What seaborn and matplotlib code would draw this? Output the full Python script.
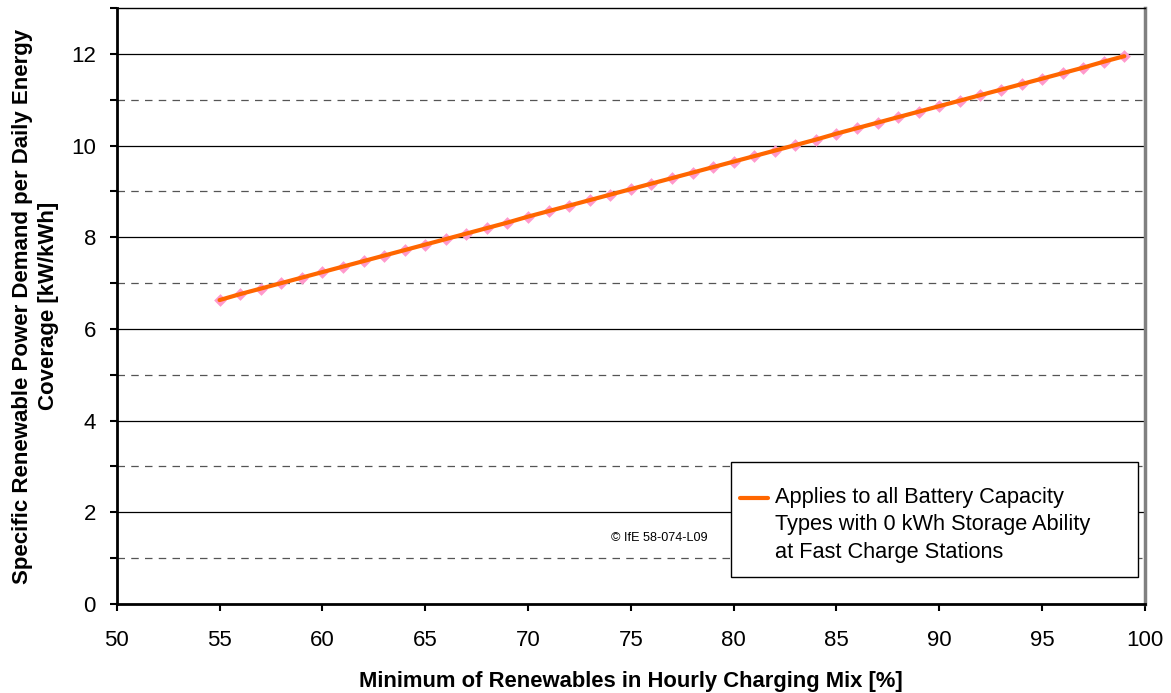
import matplotlib
matplotlib.use("Agg")
import matplotlib.pyplot as plt
from matplotlib.legend_handler import HandlerLine2D
from matplotlib.lines import Line2D
from matplotlib.patches import Rectangle
import seaborn as sns
import pandas as pd
import numpy as np

renewable_share = list(range(55, 100))
power_demand = [6.63, 6.76, 6.88, 7.00, 7.12, 7.24, 7.36, 7.48, 7.60, 7.72,
                7.84, 7.96, 8.08, 8.20, 8.32, 8.45, 8.57, 8.69, 8.81, 8.93,
                9.05, 9.17, 9.29, 9.41, 9.53, 9.65, 9.77, 9.89, 10.01, 10.13,
                10.26, 10.38, 10.50, 10.62, 10.74, 10.86, 10.98, 11.10, 11.22, 11.34,
                11.46, 11.58, 11.70, 11.83, 11.95]
series_label = "Applies to all Battery Capacity\nTypes with 0 kWh Storage Ability\nat Fast Charge Stations"
x_label = "Minimum of Renewables in Hourly Charging Mix [%]"
y_label = "Specific Renewable Power Demand per Daily Energy\nCoverage [kW/kWh]"
copyright_text = "© IfE 58-074-L09"

df = pd.DataFrame({"x": renewable_share, "y": power_demand})

sns.set_theme(style="white")
plt.rcParams['font.family'] = ['Liberation Sans', 'DejaVu Sans']
plt.rcParams['text.color'] = 'black'
plt.rcParams['axes.labelcolor'] = 'black'
plt.rcParams['xtick.color'] = 'black'
plt.rcParams['ytick.color'] = 'black'


class TopLineHandler(HandlerLine2D):
    def __init__(self, shift, **kw):
        super().__init__(**kw)
        self.shift = shift

    def create_artists(self, legend, orig_handle, xdescent, ydescent, width,
                       height, fontsize, trans):
        arts = super().create_artists(legend, orig_handle, xdescent, ydescent,
                                      width, height, fontsize, trans)
        for a in arts:
            a.set_ydata(np.asarray(a.get_ydata()) + self.shift)
        return arts


fig = plt.figure(figsize=(11.71, 6.93), dpi=100)
ax = fig.add_axes([0.0997, 0.1284, 0.878, 0.860])

sns.scatterplot(data=df, x="x", y="y", marker="D", s=42, color="#ff99cc",
                edgecolor="#ff99cc", linewidth=0, ax=ax, zorder=3, legend=False)
sns.lineplot(data=df, x="x", y="y", color="#ff6600", linewidth=3, ax=ax,
             zorder=4, label=series_label)

ax.set_xlim(50, 100)
ax.set_ylim(0, 13)
ax.set_xticks(np.arange(50, 101, 5))
ax.set_yticks(np.arange(0, 13, 2))
ax.set_yticks(np.arange(1, 14, 2), minor=True)

for yv in range(2, 13, 2):
    ax.axhline(yv, color="black", linewidth=0.9, zorder=1)
for yv in range(1, 13, 2):
    ax.axhline(yv, color="#555555", linewidth=0.9, linestyle=(0, (6, 5)), zorder=1)

ax.tick_params(axis="both", which="major", direction="out", length=5, width=1.5,
               color="black", labelcolor="black", labelsize=16, left=True, bottom=True)
ax.tick_params(axis="x", which="major", pad=14)
ax.tick_params(axis="y", which="major", pad=10)
ax.tick_params(axis="y", which="minor", direction="out", length=5, width=1.5,
               color="black", left=True)

for side in ["left", "bottom"]:
    ax.spines[side].set_color("black")
    ax.spines[side].set_linewidth(2)
ax.spines["top"].set_color("black")
ax.spines["top"].set_linewidth(1)
ax.spines["right"].set_color("#808080")
ax.spines["right"].set_linewidth(2.5)

ax.set_xlabel(x_label, fontsize=15.8, fontweight="bold", labelpad=14, color="black")
ax.set_ylabel(y_label, fontsize=16, fontweight="bold", labelpad=9, color="black",
              linespacing=1.3)

# legend frame drawn as a plain box
ax.add_patch(Rectangle((0.5974, 0.0453), 0.3958, 0.1927, transform=ax.transAxes,
                       facecolor="white", edgecolor="black", linewidth=1,
                       zorder=5))

leg = ax.legend(loc="upper left", bbox_to_anchor=(0.606, 0.197),
                fontsize=15.7, frameon=False,
                handlelength=1.3, handletextpad=0.3, borderpad=0,
                borderaxespad=0,
                handler_map={Line2D: TopLineHandler(shift=19.3)})
for t in leg.get_texts():
    t.set_linespacing(1.42)
    t.set_color("black")
leg.set_zorder(6)

ax.text(0.528, 0.111, copyright_text, transform=ax.transAxes, fontsize=9.1,
        ha="center", va="center", color="black")

fig.savefig("out.png", dpi=100)
